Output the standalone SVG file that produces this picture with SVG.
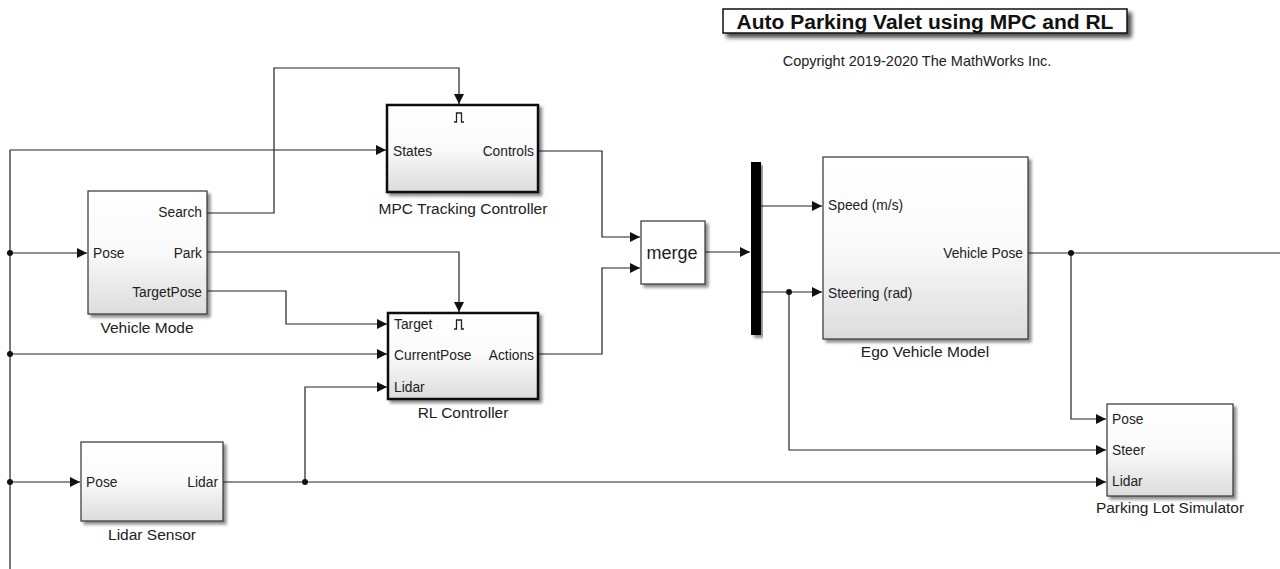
<svg xmlns="http://www.w3.org/2000/svg" width="1280" height="569" viewBox="0 0 1280 569">
<style>
.blk{fill:url(#g);stroke:#333;stroke-width:1.2}
.thick{stroke:#111;stroke-width:2.5}
.w{fill:none;stroke:#222;stroke-width:1.2}
.t{font-family:"Liberation Sans",Arial,sans-serif;font-size:13.8px;fill:#222}
.lbl{font-family:"Liberation Sans",Arial,sans-serif;font-size:15.5px;fill:#222;text-anchor:middle}
.r{text-anchor:end}
.dot{fill:#111}
.trig{fill:none;stroke:#222;stroke-width:1.3}
</style>
<defs>
<linearGradient id="g" x1="0" y1="0" x2="0" y2="1">
<stop offset="0" stop-color="#ffffff"/>
<stop offset="0.5" stop-color="#fafafa"/>
<stop offset="1" stop-color="#dcdcdc"/>
</linearGradient>
<filter id="sh" x="-10%" y="-10%" width="130%" height="130%">
<feGaussianBlur in="SourceAlpha" stdDeviation="1.5"/>
<feOffset dx="2.5" dy="2.5" result="b"/>
<feComponentTransfer><feFuncA type="linear" slope="0.45"/></feComponentTransfer>
<feMerge><feMergeNode/><feMergeNode in="SourceGraphic"/></feMerge>
</filter>
<filter id="sh2" x="-10%" y="-30%" width="130%" height="180%">
<feGaussianBlur in="SourceAlpha" stdDeviation="2"/>
<feOffset dx="4" dy="4" result="b"/>
<feComponentTransfer><feFuncA type="linear" slope="0.7"/></feComponentTransfer>
<feMerge><feMergeNode/><feMergeNode in="SourceGraphic"/></feMerge>
</filter>
<marker id="a" viewBox="0 0 10 10" refX="10" refY="5" markerWidth="10" markerHeight="10" markerUnits="userSpaceOnUse" orient="auto">
<path d="M0,0 L10,5 L0,10 Z" fill="#111"/>
</marker>
</defs>
<rect width="1280" height="569" fill="#fff"/>

<g id="title">
<rect x="723" y="9" width="404" height="24" fill="#fff" stroke="#111" stroke-width="1.5" filter="url(#sh2)"/>
<text x="925" y="29" font-family="Liberation Sans,Arial,sans-serif" font-size="21" font-weight="bold" text-anchor="middle" fill="#111">Auto Parking Valet using MPC and RL</text>
<text x="917" y="66" font-family="Liberation Sans,Arial,sans-serif" font-size="14.5" text-anchor="middle" fill="#222">Copyright 2019-2020 The MathWorks Inc.</text>
</g>

<g id="connectors">
<line class="w" x1="10" y1="150" x2="10" y2="569"/>
<line class="w" x1="10" y1="150" x2="386" y2="150" marker-end="url(#a)"/>
<line class="w" x1="10" y1="253" x2="87" y2="253" marker-end="url(#a)"/>
<line class="w" x1="10" y1="354" x2="387" y2="354" marker-end="url(#a)"/>
<line class="w" x1="10" y1="482" x2="80" y2="482" marker-end="url(#a)"/>
<polyline class="w" points="207,213 274,213 274,68 459,68 459,104" marker-end="url(#a)"/>
<polyline class="w" points="207,252 459,252 459,312" marker-end="url(#a)"/>
<polyline class="w" points="207,291 286,291 286,324 387,324" marker-end="url(#a)"/>
<polyline class="w" points="538,151 602,151 602,237 640,237" marker-end="url(#a)"/>
<polyline class="w" points="538,354 602,354 602,268 640,268" marker-end="url(#a)"/>
<line class="w" x1="705" y1="252" x2="750" y2="252" marker-end="url(#a)"/>
<line class="w" x1="761" y1="206" x2="822" y2="206" marker-end="url(#a)"/>
<line class="w" x1="761" y1="292" x2="822" y2="292" marker-end="url(#a)"/>
<polyline class="w" points="789,292 789,450 1106,450" marker-end="url(#a)"/>
<line class="w" x1="1028" y1="253" x2="1280" y2="253"/>
<polyline class="w" points="1071,253 1071,419 1106,419" marker-end="url(#a)"/>
<line class="w" x1="223" y1="482" x2="1106" y2="482" marker-end="url(#a)"/>
<polyline class="w" points="305,482 305,387 387,387" marker-end="url(#a)"/>
<circle class="dot" cx="10" cy="253" r="3"/>
<circle class="dot" cx="10" cy="354" r="3"/>
<circle class="dot" cx="10" cy="482" r="3"/>
<circle class="dot" cx="305" cy="482" r="3"/>
<circle class="dot" cx="789" cy="292" r="3"/>
<circle class="dot" cx="1071" cy="253" r="3"/>
</g>

<g id="mpc">
<rect class="blk thick" x="387" y="105" width="151" height="87" filter="url(#sh)"/>
<path class="trig" d="M454,122 L456.5,122 L456.5,113 L461.5,113 L461.5,122 L464,122"/>
<text class="t" x="393" y="156">States</text>
<text class="t r" x="534" y="156">Controls</text>
<text class="lbl" x="463" y="214">MPC Tracking Controller</text>
</g>

<g id="vehicle-mode">
<rect class="blk" x="88" y="191" width="119" height="123" filter="url(#sh)"/>
<text class="t" x="93" y="258">Pose</text>
<text class="t r" x="202" y="217">Search</text>
<text class="t r" x="202" y="258">Park</text>
<text class="t r" x="202" y="297">TargetPose</text>
<text class="lbl" x="147" y="333">Vehicle Mode</text>
</g>

<g id="rl">
<rect class="blk thick" x="388" y="313" width="150" height="86" filter="url(#sh)"/>
<path class="trig" d="M454,329 L456.5,329 L456.5,320 L461.5,320 L461.5,329 L464,329"/>
<text class="t" x="394" y="329">Target</text>
<text class="t" x="394" y="360">CurrentPose</text>
<text class="t" x="394" y="392">Lidar</text>
<text class="t r" x="534" y="360">Actions</text>
<text class="lbl" x="463" y="418">RL Controller</text>
</g>

<g id="merge">
<rect x="641" y="221" width="64" height="63" fill="#fff" stroke="#333" stroke-width="1.2" filter="url(#sh)"/>
<text x="672" y="259" font-family="Liberation Sans,Arial,sans-serif" font-size="18" text-anchor="middle" fill="#222">merge</text>
</g>

<g id="mux">
<rect x="751" y="162" width="10" height="173" fill="#000" filter="url(#sh)"/>
</g>

<g id="ego">
<rect class="blk" x="823" y="157" width="205" height="182" filter="url(#sh)"/>
<text class="t" x="828" y="210">Speed (m/s)</text>
<text class="t" x="828" y="298">Steering (rad)</text>
<text class="t r" x="1023" y="258">Vehicle Pose</text>
<text class="lbl" x="925" y="357">Ego Vehicle Model</text>
</g>

<g id="parking">
<rect class="blk" x="1107" y="404" width="126" height="92" filter="url(#sh)"/>
<text class="t" x="1112" y="424">Pose</text>
<text class="t" x="1112" y="455">Steer</text>
<text class="t" x="1112" y="486">Lidar</text>
<text class="lbl" x="1170" y="513">Parking Lot Simulator</text>
</g>

<g id="lidar-sensor">
<rect class="blk" x="81" y="442" width="142" height="79" filter="url(#sh)"/>
<text class="t" x="86" y="487">Pose</text>
<text class="t r" x="218" y="487">Lidar</text>
<text class="lbl" x="152" y="540">Lidar Sensor</text>
</g>
</svg>
